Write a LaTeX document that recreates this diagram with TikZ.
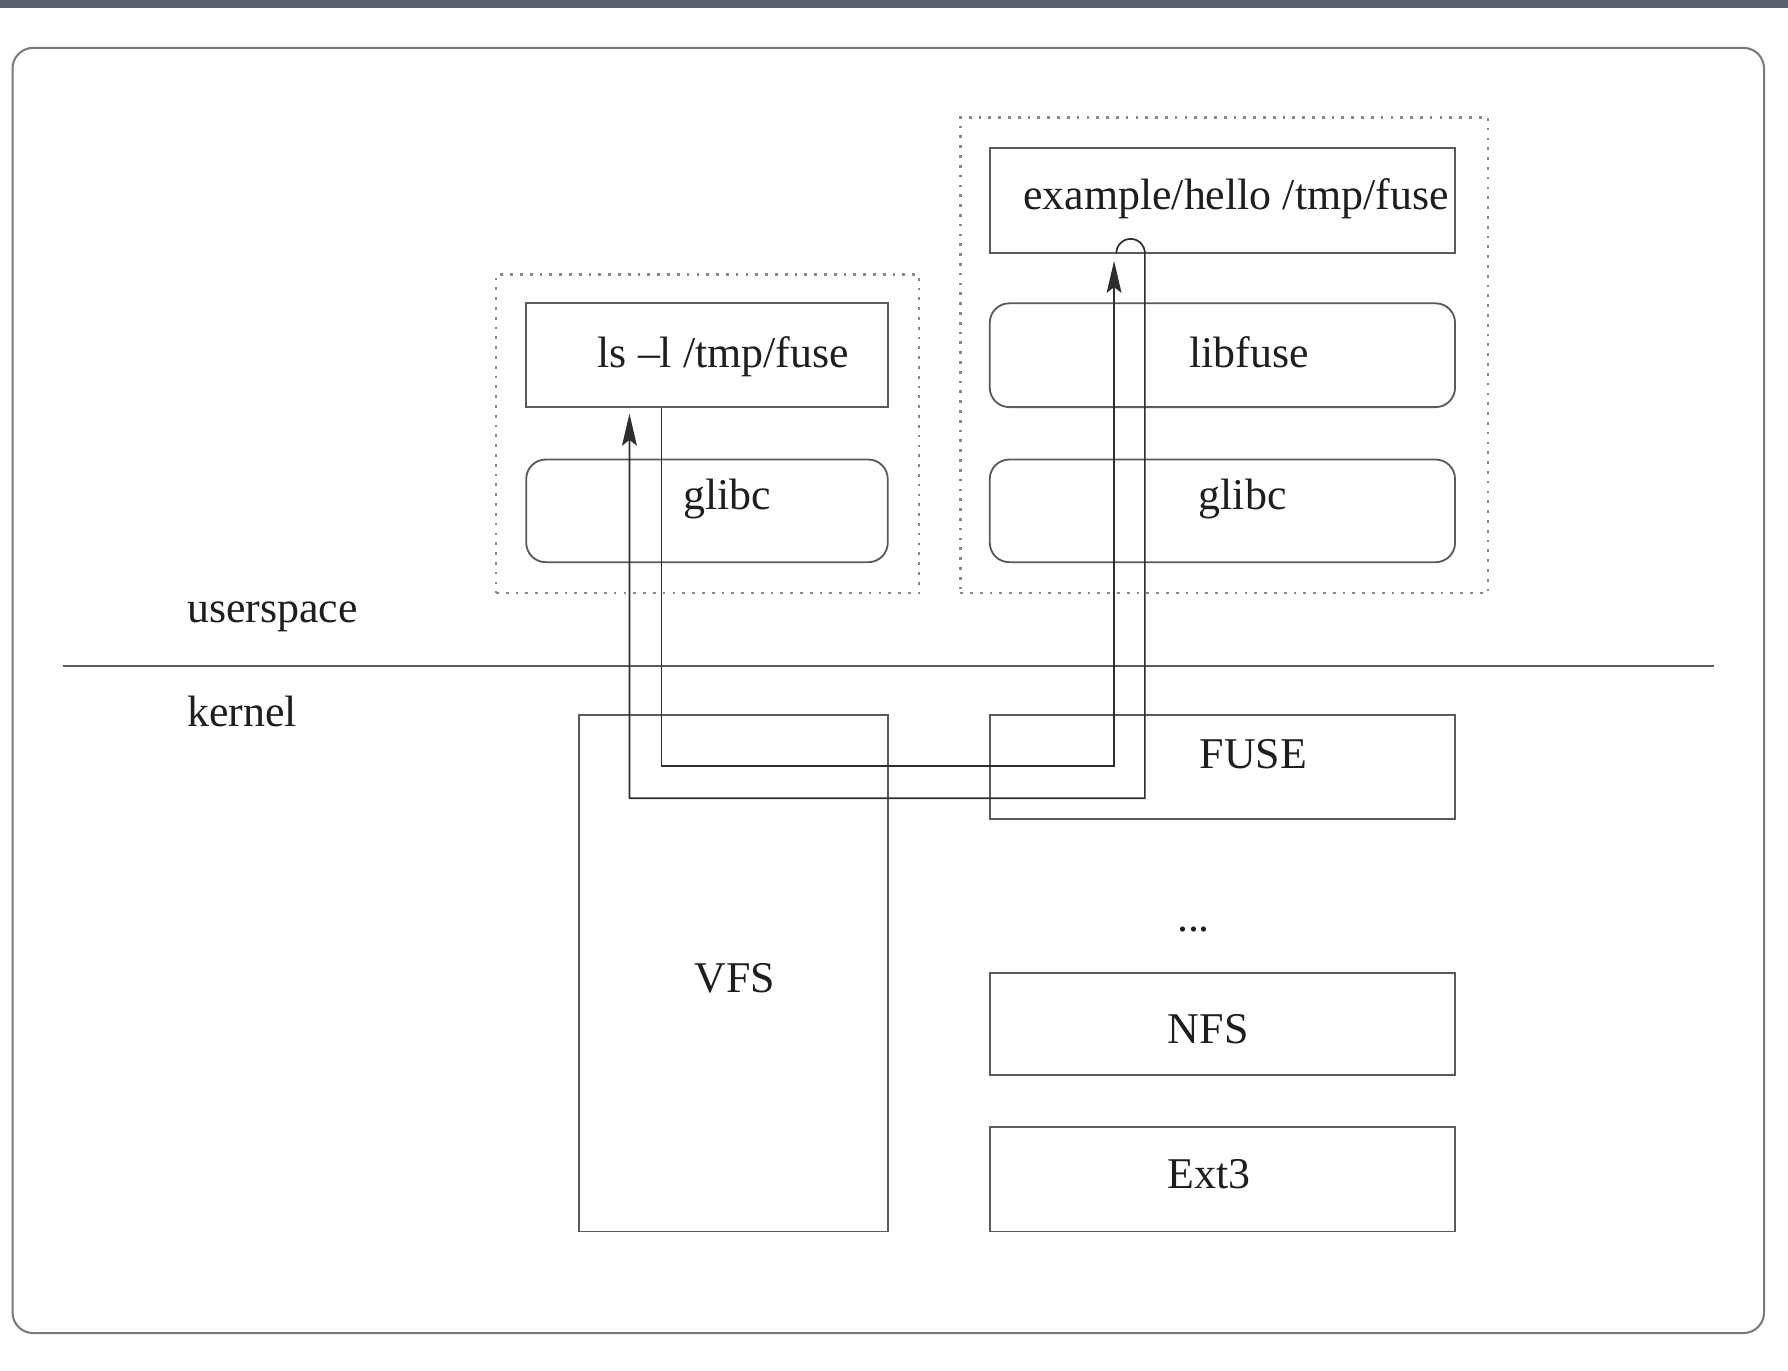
\documentclass[tikz,border=0pt]{standalone}
\usepackage{fontspec}
\setmainfont{Liberation Serif}
\usetikzlibrary{arrows.meta}
\definecolor{boxc}{HTML}{5A5A5A}
\definecolor{framec}{HTML}{7A7A7A}
\definecolor{dotc}{HTML}{888888}
\definecolor{flowc}{HTML}{2E2E2E}
\definecolor{txtc}{HTML}{1E1E1E}
\definecolor{bandc}{HTML}{5B606E}
\newcommand{\lblfont}{\fontsize{38.5}{45}\selectfont}
\begin{document}
\begin{tikzpicture}[x=1pt,y=-1pt,
  box/.style={draw=boxc,line width=1.6pt,rectangle,inner sep=0pt},
  rbox/.style={box,rounded corners=17pt},
  dotbox/.style={draw=dotc,line width=2.4pt,dash pattern=on 2.4pt off 6.2pt,rectangle,inner sep=0pt},
  framebox/.style={draw=framec,line width=1.8pt,rounded corners=18pt,rectangle,inner sep=0pt},
  lbl/.style={font=\lblfont,text=txtc,inner sep=0pt,anchor=base west},
  flow/.style={draw=flowc,line width=1.5pt,-{Stealth[length=28pt,width=13pt,inset=5pt]}}
]
\useasboundingbox (0,0) rectangle (1568,1202);
\fill[bandc] (0,0) rectangle (1568,7);

% outer frame
\node[framebox,minimum width=1536pt,minimum height=1127pt] (frame) at (779,605.5) {};

% divider
\coordinate (dl) at (55,584);
\coordinate (dr) at (1503,584);
\draw[draw=boxc,line width=1.5pt] (dl) -- (dr);
\node[lbl] (tUser) at (164,546) {userspace};
\node[lbl] (tKern) at (164,637.5) {kernel};

% dotted process boxes
\node[dotbox,minimum width=371pt,minimum height=279pt] (dotL) at (620.5,380.5) {};
\node[dotbox,minimum width=463pt,minimum height=417pt] (dotR) at (1073.5,311.5) {};

% userspace boxes
\node[box,minimum width=317pt,minimum height=91pt] (ls) at (620,311.5) {};
\node[rbox,minimum width=317pt,minimum height=90pt] (glibcL) at (620,448) {};
\node[box,minimum width=408pt,minimum height=92pt] (ex) at (1072,176) {};
\node[rbox,minimum width=408pt,minimum height=91pt] (libfuse) at (1072,311.5) {};
\node[rbox,minimum width=408pt,minimum height=90pt] (glibcR) at (1072,448) {};

% kernel boxes
\node[box,minimum width=271pt,minimum height=453pt] (vfs) at (643.5,853.5) {};
\node[box,minimum width=408pt,minimum height=91pt] (fuse) at (1072,672.5) {};
\node[box,minimum width=408pt,minimum height=90pt] (nfs) at (1072,898) {};
\node[box,minimum width=408pt,minimum height=92pt] (ext) at (1072,1034) {};

% labels
\node[lbl] (tEx) at (897,184) {example/hello /tmp/fuse};
\node[lbl] (tLs) at (524,322) {ls –l /tmp/fuse};
\node[lbl] (tGlL) at (599,447) {glibc};
\node[lbl] (tLib) at (1043,322) {libfuse};
\node[lbl] (tGlR) at (1051,447) {glibc};
\node[lbl] (tVfs) at (609,870) {VFS};
\node[lbl] (tFuse) at (1052,673.5) {FUSE};
\node[lbl] (tDots) at (1032,817) {...};
\node[lbl] (tNfs) at (1024,915) {NFS};
\node[lbl] (tExt) at (1024,1042) {Ext3};

% call path: ls -> kernel -> FUSE -> example/hello
\coordinate (p1) at (580,672);
\coordinate (p2) at (977,672);
\draw[flow,shorten >=6pt] (ls.south -| p1) -- (p1) -- (p2) -- (ex.south -| p2);

% return path: example/hello -> kernel -> ls
\coordinate (arcL) at (979,222);
\coordinate (q1) at (1004,700);
\coordinate (q2) at (552,700);
\draw[flow,shorten >=5pt] (arcL) arc[start angle=180,end angle=360,radius=12.5] -- (q1) -- (q2) -- (ls.south -| q2);
\end{tikzpicture}
\end{document}
